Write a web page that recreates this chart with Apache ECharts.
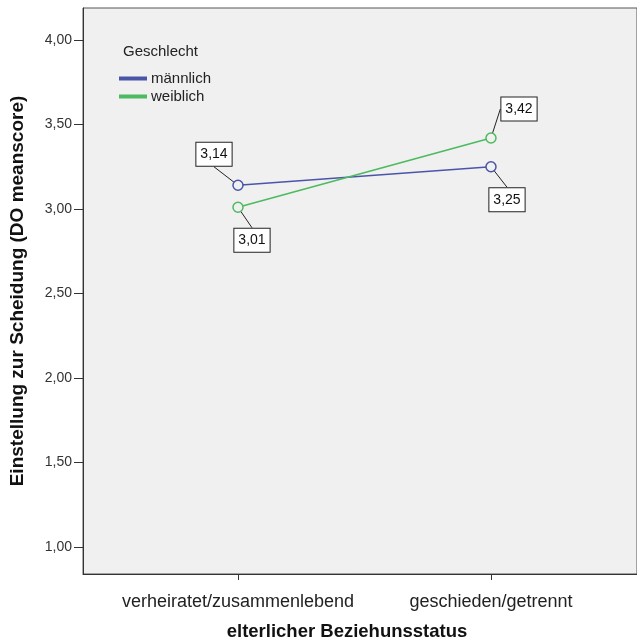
<!DOCTYPE html>
<html><head><meta charset="utf-8">
<script src="https://cdn.jsdelivr.net/npm/echarts@6/dist/echarts.min.js"></script>
<style>html,body{margin:0;padding:0;background:#fff;}#c{width:637px;height:643px;}</style>
</head><body><div id="c"></div>
<script>
var categories = ["verheiratet/zusammenlebend", "geschieden/getrennt"];
var maleValues = [3.14, 3.25];
var femaleValues = [3.01, 3.42];
var seriesNames = ["männlich", "weiblich"];
var yTicks = [1.0, 1.5, 2.0, 2.5, 3.0, 3.5, 4.0];

function fmt(v){ return v.toFixed(2).replace('.', ','); }
function toPts(arr){ return arr.map(function(v,i){ return [i, v]; }); }

var labelOffsets = [
  [[-24,-31],[16,33]],
  [[14,33],[28,-29]]
];
var FONT = 'Liberation Sans, Arial, sans-serif';
var chart = echarts.init(document.getElementById('c'));
var labelStyle = {
  show: true, position: 'inside',
  formatter: function(p){ return fmt(p.value[1]); },
  backgroundColor: '#fff', borderColor: '#222', borderWidth: 1,
  padding: [4, 4, 3, 4], lineHeight: 16, color: '#111', fontSize: 14, fontFamily: FONT
};
chart.setOption({
  animation: false,
  backgroundColor: '#fff',
  grid: { left: 83, top: 8, right: 0, height: 566, show: true, backgroundColor: '#f0f0f0', borderColor: '#555', borderWidth: 1 },
  xAxis: {
    type: 'value', min: -0.6126, max: 1.5771,
    splitLine: { show: false },
    axisLine: { show: true, onZero: false, lineStyle: { color: '#333' } },
    axisTick: { show: true, customValues: [0, 1], length: 6, lineStyle: { color: '#333' } },
    axisLabel: { customValues: [0, 1], formatter: function(v){ return categories[Math.round(v)]; }, color: '#222', fontSize: 18, margin: 19, fontFamily: FONT }
  },
  yAxis: {
    type: 'value', min: 0.84, max: 4.189,
    splitLine: { show: false },
    axisLine: { show: true, onZero: false, lineStyle: { color: '#333' } },
    axisTick: { show: true, customValues: yTicks, length: 9, lineStyle: { color: '#333' } },
    axisLabel: { customValues: yTicks, formatter: function(v){ return fmt(v); }, color: '#333', fontSize: 14, margin: 11, fontFamily: FONT },
    name: 'Einstellung zur Scheidung (DO meanscore)', nameLocation: 'middle', nameGap: 56,
    nameTextStyle: { fontSize: 19, fontWeight: 'bold', color: '#111', fontFamily: FONT }
  },
  legend: {
    orient: 'vertical', left: 119, top: 71, padding: 0, itemWidth: 26, itemHeight: 2, itemGap: 3,
    icon: 'rect',
    textStyle: { fontSize: 15, color: '#222', fontFamily: FONT },
    data: seriesNames
  },
  graphic: [
    { type: 'text', x: 123, y: 52, style: { text: 'Geschlecht', fontSize: 15, fill: '#222', verticalAlign: 'middle', fontFamily: FONT } },
    { type: 'text', x: 347, y: 632, style: { text: 'elterlicher Beziehunsstatus', fontSize: 18.5, fontWeight: 'bold', fill: '#111', align: 'center', verticalAlign: 'middle', fontFamily: FONT } }
  ],
  series: [
    { name: seriesNames[0], type: 'line', data: toPts(maleValues), color: '#4a55a8',
      lineStyle: { width: 1.6, color: '#4a55a8' }, symbol: 'circle', symbolSize: 10,
      itemStyle: { color: '#f0f0f0', borderColor: '#4a55a8', borderWidth: 1.5 },
      label: labelStyle, labelLine: { show: true, lineStyle: { color: '#222', width: 1 } },
      labelLayout: function(p){ var o = labelOffsets[0][p.dataIndex]; return { dx: o[0], dy: o[1] }; } },
    { name: seriesNames[1], type: 'line', data: toPts(femaleValues), color: '#4cba5e',
      lineStyle: { width: 1.6, color: '#4cba5e' }, symbol: 'circle', symbolSize: 10,
      itemStyle: { color: '#f0f0f0', borderColor: '#4cba5e', borderWidth: 1.5 },
      label: labelStyle, labelLine: { show: true, lineStyle: { color: '#222', width: 1 } },
      labelLayout: function(p){ var o = labelOffsets[1][p.dataIndex]; return { dx: o[0], dy: o[1] }; } }
  ]
});
</script></body></html>
